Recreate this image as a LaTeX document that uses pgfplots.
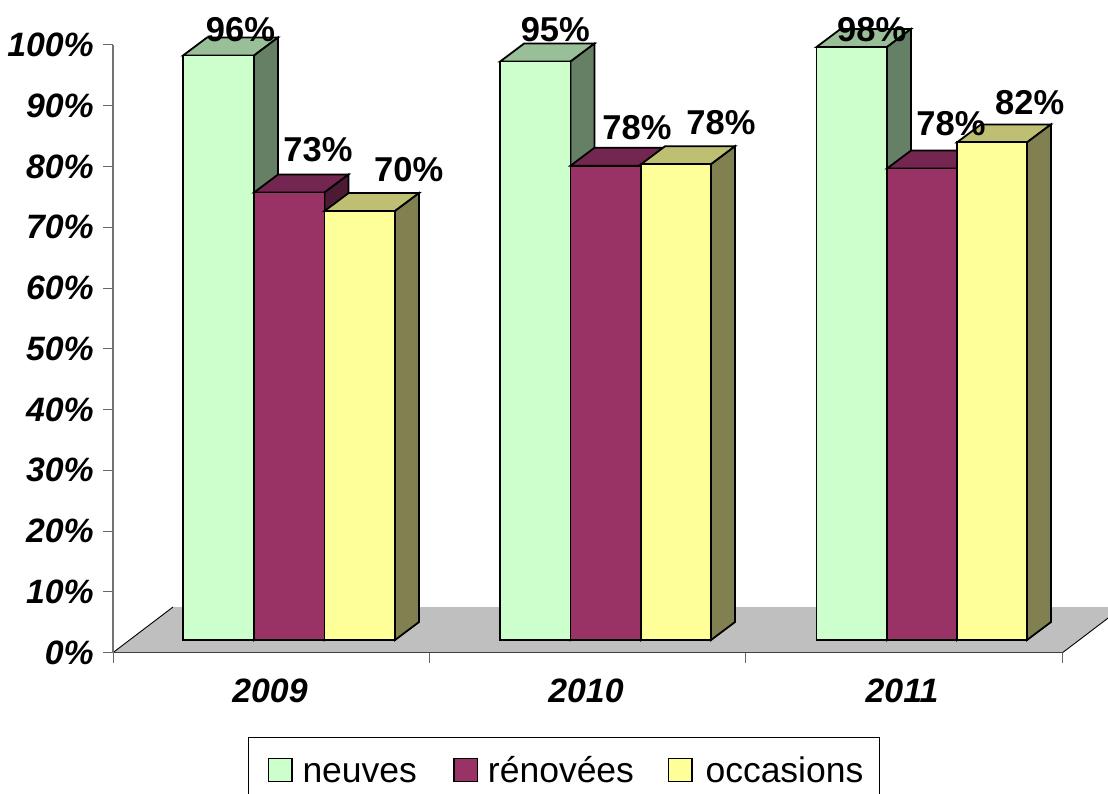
\documentclass[border=0pt]{standalone}
\usepackage{pgfplots}
\pgfplotsset{compat=1.18}
\usepackage{fontspec}
\setmainfont{Liberation Sans}
\definecolor{nf}{HTML}{CCFFCC}\definecolor{nt}{HTML}{99BF99}\definecolor{ns}{HTML}{668066}
\definecolor{rf}{HTML}{993366}\definecolor{rt}{HTML}{732650}\definecolor{rs}{HTML}{4D1A33}
\definecolor{of}{HTML}{FFFF99}\definecolor{ot}{HTML}{BFBF73}\definecolor{os}{HTML}{808050}
\newcommand{\threeDbar}[6]{% x0, x1, value, front, top, side
  \pgfmathsetmacro{\yb}{2.07}%
  \pgfmathsetmacro{\yt}{2.07+#3}%
  \pgfmathsetmacro{\ytb}{\yt+2.96}%
  \pgfmathsetmacro{\ybb}{\yb+2.96}%
  \pgfmathsetmacro{\xa}{#1+24}%
  \pgfmathsetmacro{\xb}{#2+24}%
  \addplot[forget plot,fill=#5,draw=black,line width=1.8pt] coordinates {(#1,\yt) (\xa,\ytb) (\xb,\ytb) (#2,\yt)} -- cycle;
  \addplot[forget plot,fill=#6,draw=black,line width=1.8pt] coordinates {(#2,\yb) (\xb,\ybb) (\xb,\ytb) (#2,\yt)} -- cycle;
  \addplot[forget plot,fill=#4,draw=black,line width=1.8pt] coordinates {(#1,\yb) (#1,\yt) (#2,\yt) (#2,\yb)} -- cycle;
}
\newcommand{\vallabel}[3]{\node[anchor=base,inner sep=0pt,font=\fontsize{34.5}{40}\selectfont\bfseries] at (axis cs:#1,#2) {#3\%};}
\begin{document}
\begin{tikzpicture}
\clip (0,0) rectangle (1108pt,793pt);
\begin{axis}[
  at={(113pt,140.4pt)}, anchor=south west,
  scale only axis, width=949.6pt, height=607.6pt,
  xmin=113, xmax=1062.6, ymin=0, ymax=100,
  clip=false, axis on top,
  axis x line*=bottom, axis y line*=left,
  x axis line style={draw=black!75,line width=1.6pt,-},
  y axis line style={draw=black!55,line width=1.2pt,-},
  tick align=outside,
  major tick length=10pt,
  tick style={draw=black!60,line width=1pt},
  ytick={0,10,...,100},
  yticklabels={0\%,10\%,20\%,30\%,40\%,50\%,60\%,70\%,80\%,90\%,100\%},
  yticklabel style={font=\fontsize{33.8}{40}\selectfont\bfseries\itshape,inner sep=0pt,anchor=east,xshift=-9pt},
  xtick={113,429,745,1062},
  xticklabels={,,,},
  extra x ticks={270,586,902},
  extra x tick labels={2009,2010,2011},
  extra x tick style={major tick length=0pt,
    xticklabel style={font=\fontsize{33.8}{40}\selectfont\bfseries\itshape,inner sep=0pt,anchor=base,yshift=-50pt}},
  legend columns=3,
  legend cell align=left,
  legend style={at={(axis cs:247.5,-13.97)},anchor=north west,draw=black,line width=1pt,
    font=\fontsize{35.5}{42}\selectfont,inner xsep=16pt,inner ysep=16pt,
    nodes={inner sep=0pt},
    /tikz/every even column/.append style={column sep=0pt},
    /tikz/every odd column/.append style={column sep=0pt}},
  legend image code/.code={\path[draw=none,fill=none] (0pt,-16pt) rectangle (38.5pt,16pt);
     \draw[#1,draw=black,line width=1.5pt] (4.5pt,-11.5pt) rectangle (28pt,11.5pt);},
]
\addlegendimage{fill=nf}\addlegendentry{\vphantom{é(}neuves\rule{32.5pt}{0pt}}
\addlegendimage{fill=rf}\addlegendentry{\vphantom{é(}rénovées\rule{30pt}{0pt}}
\addlegendimage{fill=of}\addlegendentry{\vphantom{é(}\rule{3pt}{0pt}occasions}
% floor
\addplot[forget plot,fill=black!25,draw=none] coordinates {(113,0) (173,7.5) (1122.6,7.5) (1062.6,0)} -- cycle;
\addplot[forget plot,draw=black,line width=0.9pt] coordinates {(113,0) (173,7.5)};
\addplot[forget plot,draw=black,line width=0.9pt] coordinates {(1062.6,0) (1122.6,7.5)};
% 2009
\threeDbar{183}{254}{96.2}{nf}{nt}{ns}
\threeDbar{254}{324.5}{73.65}{rf}{rt}{rs}
\threeDbar{324.5}{395}{70.6}{of}{ot}{os}
% 2010
\threeDbar{500}{570.5}{95.2}{nf}{nt}{ns}
\threeDbar{570.5}{641}{78.06}{rf}{rt}{rs}
\threeDbar{641}{711}{78.3}{of}{ot}{os}
% 2011
\threeDbar{816.5}{887}{97.6}{nf}{nt}{ns}
\threeDbar{887}{957}{77.6}{rf}{rt}{rs}
\threeDbar{957}{1027}{81.9}{of}{ot}{os}
% labels
\vallabel{240.5}{100.54}{96}
\vallabel{318}{80.75}{73}
\vallabel{408.7}{77.46}{70}
\vallabel{555.3}{100.54}{95}
\vallabel{637}{84.37}{78}
\vallabel{721}{85.19}{78}
\vallabel{871.7}{100.5}{98}
\vallabel{951}{85.03}{78}
\vallabel{1029.7}{88.49}{82}
\end{axis}
\end{tikzpicture}
\end{document}
